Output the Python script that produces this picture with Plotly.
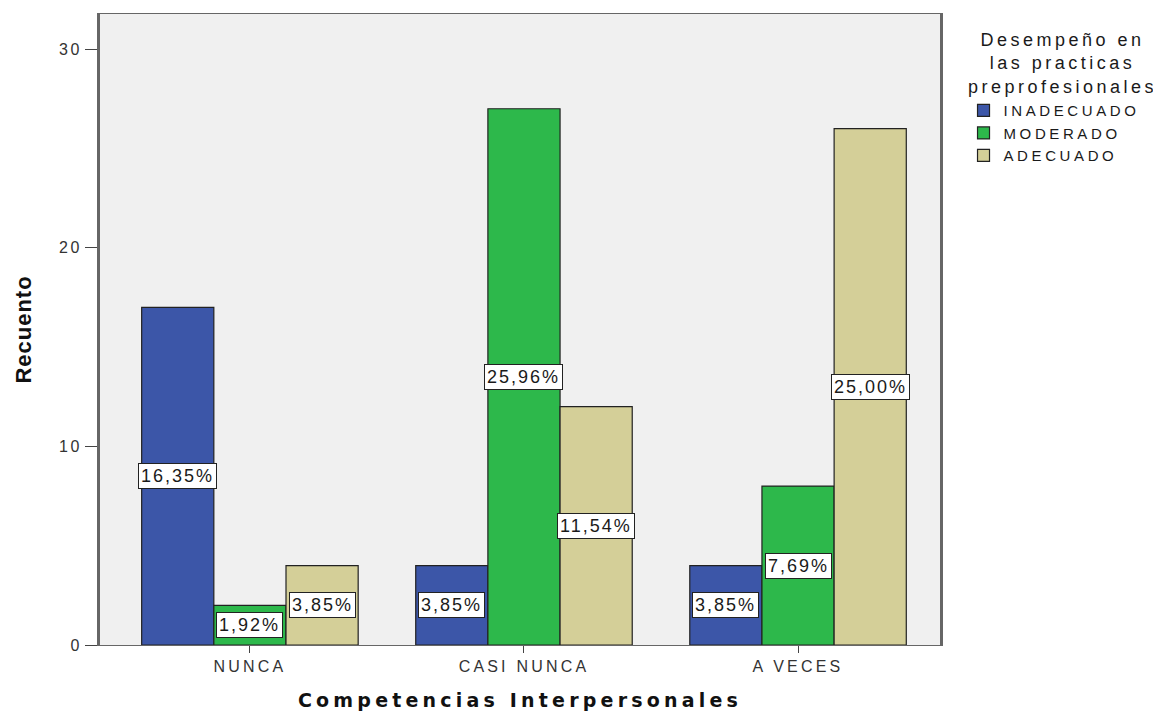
import plotly.graph_objects as go

categories = ["NUNCA", "CASI NUNCA", "A VECES"]
series_names = ["INADECUADO", "MODERADO", "ADECUADO"]
inadecuado = [17, 4, 4]
moderado = [2, 27, 8]
adecuado = [4, 12, 26]
pct_inadecuado = ["16,35%", "3,85%", "3,85%"]
pct_moderado = ["1,92%", "25,96%", "7,69%"]
pct_adecuado = ["3,85%", "11,54%", "25,00%"]
y_ticks = [0, 10, 20, 30]

colors = ["#3c56a8", "#2db84b", "#d4cf98"]
values = [inadecuado, moderado, adecuado]
pcts = [pct_inadecuado, pct_moderado, pct_adecuado]


def sp(text, ls):
    return '<span style="letter-spacing:%spx">%s</span>' % (ls, text)


FONT = "Liberation Sans, Arial"

fig = go.Figure()
for name, vals, col in zip(series_names, values, colors):
    fig.add_trace(go.Bar(
        x=list(range(len(categories))), y=vals, name=sp(name, 3.6),
        marker=dict(color=col, line=dict(color="#222222", width=1.2)),
    ))

bargap = 0.21
bw = (1 - bargap) / 3
annotations = []
for j, (vals, labs) in enumerate(zip(values, pcts)):
    for i, (v, lab) in enumerate(zip(vals, labs)):
        annotations.append(dict(
            x=i + (j - 1) * bw, y=v / 2, xref="x", yref="y", text=sp(lab, 2),
            showarrow=False, bgcolor="white", bordercolor="#222222", borderwidth=1,
            borderpad=2, font=dict(family=FONT, size=18, color="#1a1a1a"),
        ))

annotations.append(dict(
    x=1.146, y=0.978, xref="paper", yref="paper", xanchor="center", yanchor="top",
    text=sp("Desempeño en", 3.5) + "<br>" + sp("las practicas", 3.5) + "<br>" + sp("preprofesionales", 3.5),
    showarrow=False, align="center",
    font=dict(family=FONT, size=18, color="#1a1a1a"),
))

fig.update_layout(
    width=1161, height=713,
    margin=dict(l=92, r=229, t=6, b=76),
    paper_bgcolor="white", plot_bgcolor="#f0f0f0",
    barmode="group", bargap=bargap, bargroupgap=0,
    font=dict(family=FONT, color="#222222"),
    annotations=annotations,
    showlegend=True,
    legend=dict(
        x=1.028, y=0.873, xanchor="left", yanchor="top",
        font=dict(size=15, family=FONT, color="#1a1a1a"),
        itemwidth=30, tracegroupgap=0, bgcolor="rgba(0,0,0,0)",
    ),
    xaxis=dict(
        tickmode="array", tickvals=list(range(len(categories))),
        ticktext=[sp(c, 3.2) for c in categories],
        range=[-0.547, 2.518], showgrid=False, zeroline=False,
        showline=True, linecolor="#666666", linewidth=1, mirror=True,
        ticks="outside", ticklen=7, tickcolor="#444444",
        tickfont=dict(size=16, family=FONT, color="#333333"),
        title=dict(text="<b>" + sp("Competencias Interpersonales", 4.2) + "</b>", standoff=19,
                   font=dict(size=19, family="DejaVu Sans, Liberation Sans", color="#111111")),
    ),
    yaxis=dict(
        range=[0, 31.77], tickvals=y_ticks, ticktext=[sp(str(t), 2.5) for t in y_ticks],
        showgrid=False, zeroline=False,
        showline=True, linecolor="#666666", linewidth=3, mirror=True,
        ticks="outside", ticklen=12, tickcolor="#444444",
        tickfont=dict(size=16, family=FONT, color="#333333"),
        title=dict(text="<b>" + sp("Recuento", 1) + "</b>", standoff=22,
                   font=dict(size=22, family="Liberation Sans Narrow, Arial Narrow, Liberation Sans", color="#111111")),
    ),
)

fig.write_html("out.html")
